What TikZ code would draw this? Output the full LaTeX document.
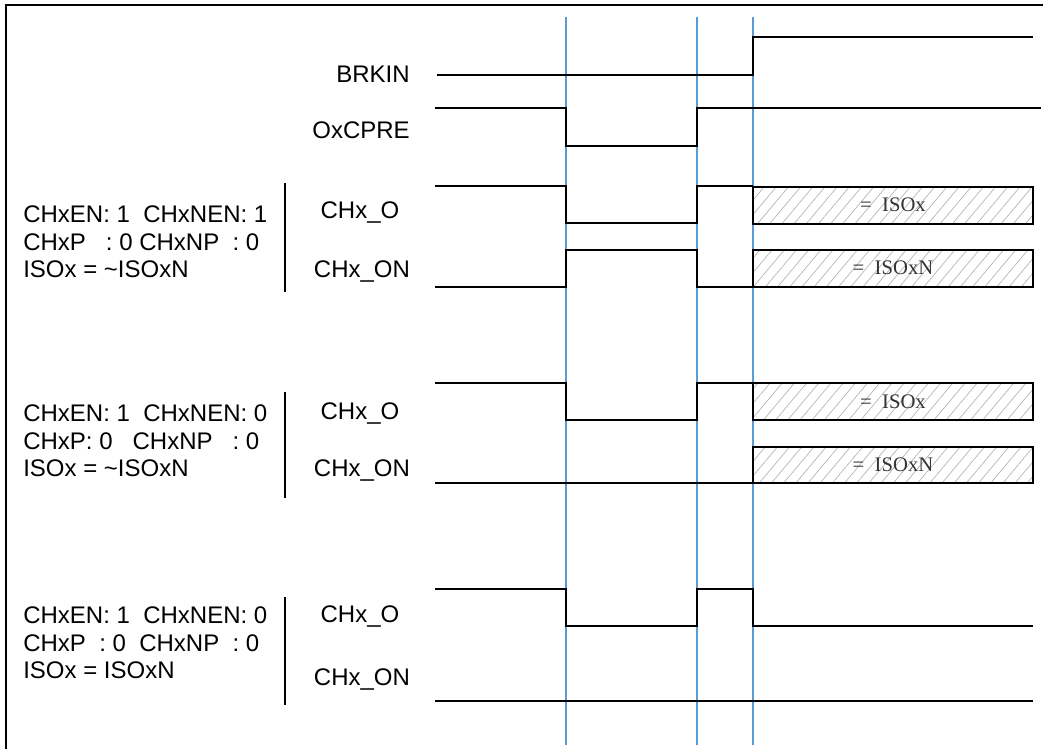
\documentclass[tikz,border=0pt]{standalone}
\usepackage{fontspec}
\setmainfont{Liberation Sans}
\newfontfamily\isofont{Liberation Serif}
\usepackage{xcolor}
\usepackage{tikz}
\usetikzlibrary{patterns.meta}
\definecolor{cursor}{HTML}{5B9BD5}

\begin{document}
\begin{tikzpicture}[x=0.75pt, y=-0.75pt,
    frame/.style={line width=1.5pt, black},
    sig/.style={line width=1.5pt, black},
    cursorline/.style={line width=1.1pt, cursor},
    sep/.style={line width=0.9pt, black},
    hatch/.style={draw=black, line width=1.5pt, pattern={Lines[angle=50, distance=7pt, line width=0.5pt]}, pattern color=black!30},
    iso/.style={font=\isofont\fontsize{15.5}{18}\selectfont, text=black!80},
    signame/.style={font=\fontsize{18}{21}\selectfont, inner sep=0pt},
    cfg/.style={anchor=west, align=left, inner sep=0pt, font=\fontsize{18}{20.6}\selectfont}]

    \useasboundingbox (0,0) rectangle (1043,749);
    \draw [frame] (6,749) -- (6,5) -- (1043,5);

    % cursors
    \draw [cursorline] (566,17) -- (566,745);
    \draw [cursorline] (697,17) -- (697,745);
    \draw [cursorline] (753,17) -- (753,745);

    % BRKIN / OxCPRE
    \node [signame, anchor=east] at (410,74) (brkin) {BRKIN};
    \node [signame, anchor=east] at (410,130) (ocpre) {OxCPRE};
    \draw [sig] (437,75) -- (753,75) -- (753,37) -- (1033,37);
    \draw [sig] (435,108) -- (566,108) -- (566,146) -- (697,146) -- (697,108) -- (1041,108);

    % case 1
    \node [cfg] at (23,242) (cfgA) {CHxEN: 1\ \ CHxNEN: 1\\CHxP\ \ \ : 0\ CHxNP\ \ : 0\\ISOx = \textasciitilde ISOxN};
    \draw [sep] (285,183) -- (285,292);
    \node [signame] at (360,213) (oA) {CHx\_O};
    \node [signame] at (362,272) (onA) {CHx\_ON};
    \draw [sig] (435,186) -- (566,186) -- (566,223) -- (697,223) -- (697,186) -- (753,186);
    \draw [sig] (435,287) -- (566,287) -- (566,250) -- (697,250) -- (697,287) -- (753,287);
    \draw [hatch] (753,187) rectangle (1033,224);
    \node [iso] at (893,205) (isoA) {=\ \ ISOx};
    \draw [hatch] (753,250) rectangle (1033,287);
    \node [iso] at (893,268) (isonA) {=\ \ ISOxN};

    % case 2
    \node [cfg] at (23,441) (cfgB) {CHxEN: 1\ \ CHxNEN: 0\\CHxP: 0\ \ \ CHxNP\ \ \ : 0\\ISOx = \textasciitilde ISOxN};
    \draw [sep] (285,392) -- (285,498);
    \node [signame] at (360,414) (oB) {CHx\_O};
    \node [signame] at (362,471) (onB) {CHx\_ON};
    \draw [sig] (435,383) -- (566,383) -- (566,420) -- (697,420) -- (697,383) -- (753,383);
    \draw [sig] (435,483) -- (753,483);
    \draw [hatch] (753,383) rectangle (1033,420);
    \node [iso] at (893,402) (isoB) {=\ \ ISOx};
    \draw [hatch] (753,447) rectangle (1033,483);
    \node [iso] at (893,465) (isonB) {=\ \ ISOxN};

    % case 3
    \node [cfg] at (23,643) (cfgC) {CHxEN: 1\ \ CHxNEN: 0\\CHxP\ \ : 0\ \ CHxNP\ \ : 0\\ISOx = ISOxN};
    \draw [sep] (285,597) -- (285,705);
    \node [signame] at (360,617) (oC) {CHx\_O};
    \node [signame] at (362,680) (onC) {CHx\_ON};
    \draw [sig] (435,589) -- (566,589) -- (566,626) -- (697,626) -- (697,589) -- (753,589) -- (753,626) -- (1033,626);
    \draw [sig] (435,701) -- (1033,701);
\end{tikzpicture}
\end{document}
